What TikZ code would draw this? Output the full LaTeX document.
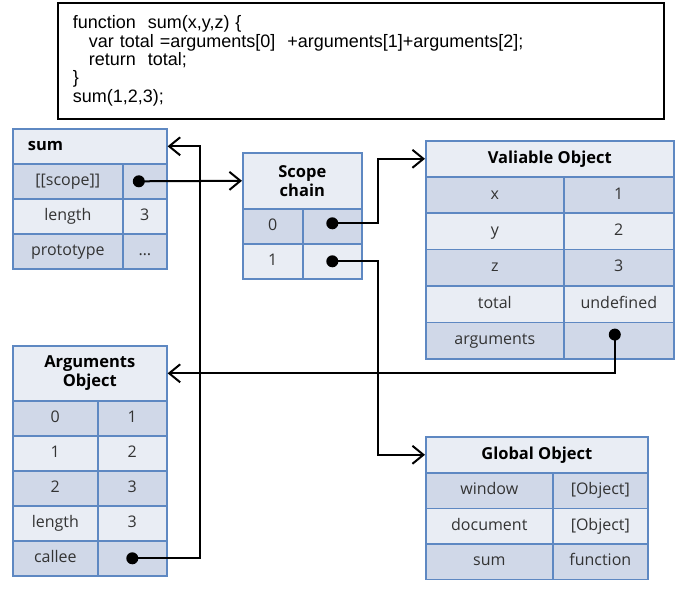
\documentclass[tikz,border=0pt]{standalone}
\usepackage{fontspec}
\usetikzlibrary{arrows.meta}
\newfontfamily\tabfont{Open Sans}
\newfontfamily\codefont{Liberation Sans}
\definecolor{tblue}{HTML}{5E88C2}
\definecolor{rowdark}{HTML}{D0D8E8}
\definecolor{rowlight}{HTML}{E9EDF4}
\colorlet{celltext}{black!80}
\tikzset{
  cell/.style={draw=tblue, line width=1.6pt, inner sep=0pt, anchor=north west, text=celltext,
    text height=11.5pt, text depth=3.5pt, font=\tabfont\fontsize{16}{17}\selectfont},
  hd/.style={cell, fill=rowlight, align=center, text=black, text height={}, text depth={},
    font=\tabfont\bfseries\fontsize{16.5}{19}\selectfont},
  dk/.style={cell, fill=rowdark},
  lt/.style={cell, fill=rowlight},
  dot/.style={circle, fill=black, inner sep=0pt, minimum size=12pt},
  ptr/.style={line width=2pt, -{Straight Barb[length=11pt, width=18pt, line width=2pt]}},
}

\begin{document}
\begin{tikzpicture}[x=1pt, y=-1pt]
    \useasboundingbox (0,0) rectangle (685,589);
    % code
    \node[draw, line width=1.6pt, anchor=north west, inner sep=0pt,
      minimum width=606, minimum height=116, text width=576, align=left,
      font=\codefont\fontsize{18}{18.4}\selectfont] (code) at (57,2)
      {function\ \ sum(x,y,z)\ \{\\
       \hspace*{16pt}var total =arguments[0]\ \ +arguments[1]+arguments[2];\\
       \hspace*{16pt}return\ \ total;\\
       \}\\
       sum(1,2,3);};
    % sum
    \node[hd, minimum width=154, minimum height=35, text width=124, align=left] (sumH) at (12,128) {sum};
    \foreach \st/\k/\v [count=\i] in {dk/{[[scope]]}/{}, lt/length/3, dk/prototype/\ldots} {
      \node[\st, minimum width=110, minimum height=35] (sumK\i) at (12,{163+35*(\i-1)}) {\k};
      \node[\st, minimum width=44, minimum height=35] (sumV\i) at (122,{163+35*(\i-1)}) {\v};
    }
    % scope chain
    \node[hd, minimum width=119, minimum height=56] (scH) at (242,152) {Scope\\chain};
    \foreach \st/\k [count=\i] in {dk/0, lt/1} {
      \node[\st, minimum width=60, minimum height=35] (scK\i) at (242,{208+35*(\i-1)}) {\k};
      \node[\st, minimum width=59, minimum height=35] (scV\i) at (302,{208+35*(\i-1)}) {};
    }
    % valiable object
    \node[hd, minimum width=248, minimum height=36] (voH) at (425,140) {Valiable Object};
    \foreach \st/\k/\v [count=\i] in {dk/x/1, lt/y/2, dk/z/3, lt/total/undefined, dk/arguments/{}} {
      \node[\st, minimum width=138, minimum height=36.4] (voK\i) at (425,{176+36.4*(\i-1)}) {\k};
      \node[\st, minimum width=110, minimum height=36.4] (voV\i) at (563,{176+36.4*(\i-1)}) {\v};
    }
    % arguments object
    \node[hd, minimum width=154, minimum height=55] (aoH) at (12,345) {Arguments\\Object};
    \foreach \st/\k/\v [count=\i] in {dk/0/1, lt/1/2, dk/2/3, lt/length/3, dk/callee/{}} {
      \node[\st, minimum width=85, minimum height=35] (aoK\i) at (12,{400+35*(\i-1)}) {\k};
      \node[\st, minimum width=69, minimum height=35] (aoV\i) at (97,{400+35*(\i-1)}) {\v};
    }
    % global object
    \node[hd, minimum width=222, minimum height=36] (goH) at (425,436) {Global Object};
    \foreach \st/\k/\v [count=\i] in {dk/window/{[Object]}, lt/document/{[Object]}, dk/sum/function} {
      \node[\st, minimum width=127, minimum height=35.5] (goK\i) at (425,{472+35.5*(\i-1)}) {\k};
      \node[\st, minimum width=95, minimum height=35.5] (goV\i) at (552,{472+35.5*(\i-1)}) {\v};
    }
    % pointers
    \node[dot, xshift=-6pt] (scopeDot) at (sumV1) {};
    \node[dot, yshift=3pt] (sc0Dot) at (scV1) {};
    \node[dot] (sc1Dot) at (scV2) {};
    \node[dot, xshift=-4pt, yshift=6pt] (argDot) at (voV5) {};
    \node[dot] (calleeDot) at (aoV5) {};
    \coordinate (railA) at (200,0);
    \coordinate (railB) at (378,0);
    \draw[ptr] (scopeDot.center) -- (scH.west);
    \draw[ptr] (sc0Dot.center) -| (railB |- voH.west) -- (voH.west);
    \draw[ptr] (sc1Dot.center) -| (railB |- goH.west) -- (goH.west);
    \draw[ptr] (argDot.center) |- (aoH.east);
    \draw[ptr] (calleeDot.center) -| (railA |- sumH.east) -- (sumH.east);
\end{tikzpicture}
\end{document}
